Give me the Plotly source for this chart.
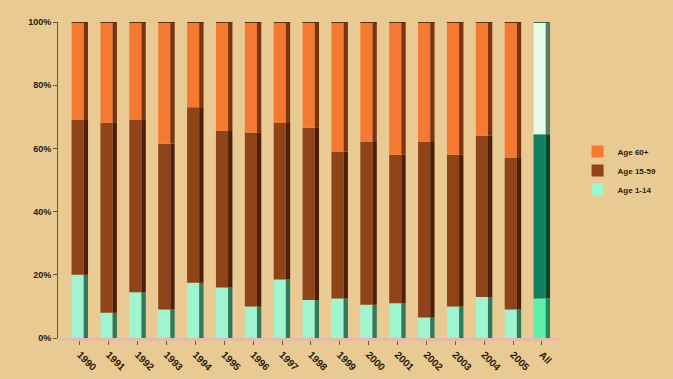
import numpy as np
import plotly.graph_objects as go

# Share of cases by age group, per year (percent of total)
years = ["1990", "1991", "1992", "1993", "1994", "1995", "1996", "1997",
         "1998", "1999", "2000", "2001", "2002", "2003", "2004", "2005", "All"]
age_1_14 = [20.0, 8.0, 14.5, 9.0, 17.5, 16.0, 10.0, 18.5,
            12.0, 12.5, 10.5, 11.0, 6.5, 10.0, 13.0, 9.0, 12.5]
age_15_59 = [49.0, 60.0, 54.5, 52.5, 55.5, 49.5, 55.0, 49.5,
             54.5, 46.5, 51.5, 47.0, 55.5, 48.0, 51.0, 48.0, 52.0]
age_60_plus = [31.0, 32.0, 31.0, 38.5, 27.0, 34.5, 35.0, 32.0,
               33.5, 41.0, 38.0, 42.0, 38.0, 42.0, 36.0, 43.0, 35.5]

y_ticks = [0, 20, 40, 60, 80, 100]
y_tick_labels = ["0%", "20%", "40%", "60%", "80%", "100%"]

# (label, values, face colour per year / for "All", side colour per year / for "All")
series = [
    ("Age 1-14", age_1_14, ("#9EF5D0", "#5CF0A8"), ("#2F7A5A", "#1E8A5A")),
    ("Age 15-59", age_15_59, ("#8E4418", "#118060"), ("#4E1E06", "#07452F")),
    ("Age 60+", age_60_plus, ("#F47A32", "#E6FBE6"), ("#7A3410", "#5E7A66")),
]

n = len(years)
FACE_W, FACE_OFF = 0.42, -0.29
SIDE_W, SIDE_OFF = 0.15, 0.13

fig = go.Figure()
base = np.zeros(n)
for name, vals, face, side in series:
    vals = np.asarray(vals, dtype=float)
    face_cols = [face[0]] * (n - 1) + [face[1]]
    side_cols = [side[0]] * (n - 1) + [side[1]]
    fig.add_trace(go.Bar(
        x=years, y=vals, base=base, width=FACE_W, offset=FACE_OFF,
        marker=dict(color=face_cols, line=dict(width=0)),
        name=name, legendgroup=name,
    ))
    fig.add_trace(go.Bar(
        x=years, y=vals, base=base, width=SIDE_W, offset=SIDE_OFF,
        marker=dict(color=side_cols, line=dict(width=0)),
        showlegend=False, legendgroup=name, hoverinfo="skip",
    ))
    base = base + vals

# dark top cap on each column (straddles the column top so it stays drawn)
CAP = 1.6
cap_cols = ["#5A2A0E"] * (n - 1) + ["#3E5A48"]
fig.add_trace(go.Bar(
    x=years, y=[CAP] * n, base=base - 0.3, width=FACE_W + SIDE_W, offset=FACE_OFF,
    marker=dict(color=cap_cols, line=dict(width=0)),
    showlegend=False, hoverinfo="skip", cliponaxis=False,
))

BG = "#E9CA93"
TXT = "#2B2010"
fig.update_layout(
    width=673, height=379,
    barmode="overlay",
    paper_bgcolor=BG, plot_bgcolor=BG,
    margin=dict(l=58, r=113, t=22, b=41),
    font=dict(family="Liberation Sans, Arial, sans-serif", size=9,
              color=TXT, weight="bold"),
    legend=dict(
        x=1.035, y=0.53, xanchor="left", yanchor="middle",
        traceorder="reversed", bgcolor="rgba(0,0,0,0)",
        font=dict(size=8, color=TXT, weight="bold"),
        itemwidth=30, tracegroupgap=0,
    ),
    showlegend=True,
)
fig.update_xaxes(
    type="category", range=[-0.76, 16.59], automargin=False,
    showline=True, linecolor="#E6B9AE", linewidth=3,
    ticks="outside", ticklen=4, tickcolor="#6A5A3A",
    tickangle=45, showgrid=False, zeroline=False,
    tickfont=dict(size=10, color=TXT, weight="bold"),
)
fig.update_yaxes(
    range=[0, 100], tickmode="array", tickvals=y_ticks, ticktext=y_tick_labels,
    automargin=False,
    showline=True, linecolor="#5F5A30", linewidth=1,
    ticks="outside", ticklen=4, tickcolor="#5F5A30",
    showgrid=False, zeroline=False,
    tickfont=dict(size=9, color=TXT, weight="bold"),
)

fig.write_html("out.html")
